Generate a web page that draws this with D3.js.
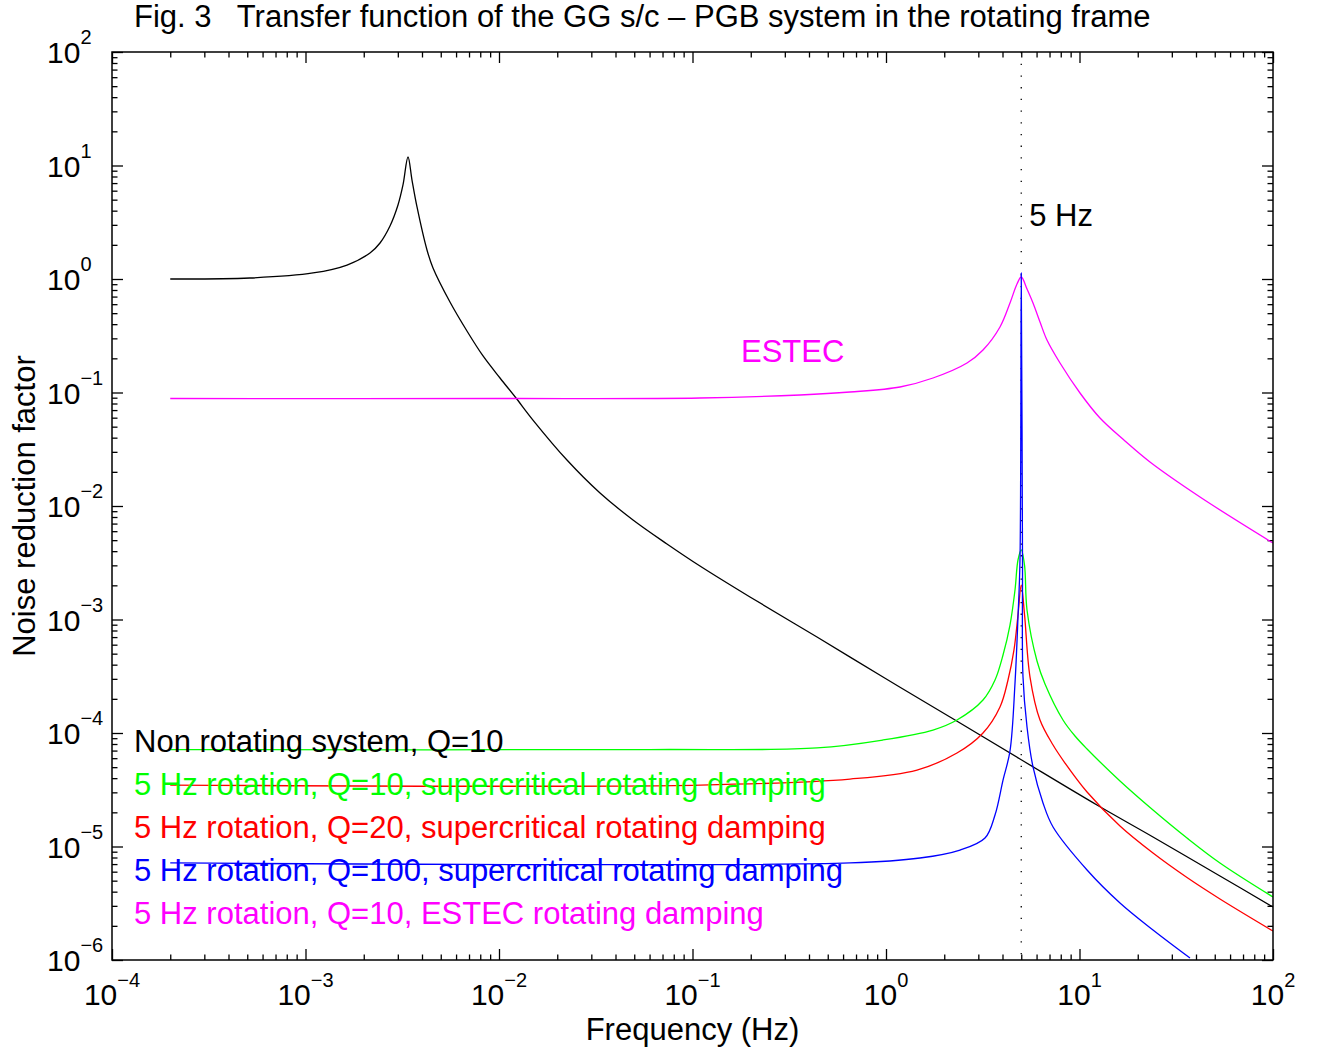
<!DOCTYPE html>
<html>
<head>
<meta charset="utf-8">
<script src="https://cdn.jsdelivr.net/npm/d3@7"></script>
<style>
  body { margin: 0; background: #fff; }
  text { font-family: "Liberation Sans", Arial, Helvetica, sans-serif; }
</style>
</head>
<body>
<svg id="chart" width="1325" height="1052"></svg>
<script>
// values (frequency in Hz, noise reduction factor)
const blackF = [2e-4, 5.16e-4, 1.094e-3, 1.639e-3, 2.154e-3, 2.427e-3, 2.733e-3, 3.006e-3, 3.19e-3, 3.386e-3, 3.551e-3, 3.77e-3, 4.245e-3, 4.56e-3, 5.58e-3, 6.83e-3, 8.27e-3, 1.012e-2, 1.224e-2, 1.498e-2, 2.245e-2, 3.327e-2, 4.927e-2, 7.38e-2, 0.1093, 0.1982, 0.44, 0.965, 2.141, 4.925, 12.31, 23.98, 53.2, 100]
const blackV = [1.0, 1.02, 1.13, 1.328, 1.695, 2.076, 2.931, 4.487, 6.735, 11.88, 7.45, 4.31, 1.801, 1.25, 0.627, 0.3482, 0.2097, 0.1342, 0.0894, 0.0572, 0.02542, 0.01302, 7.53e-3, 4.63e-3, 2.96e-3, 1.579e-3, 7.01e-4, 3.113e-4, 1.384e-4, 5.9e-5, 2.32e-5, 1.213e-5, 5.5e-6, 2.93e-6]

const magentaF = [2e-4, 1.012e-2, 0.1093, 0.3594, 0.6516, 1.181, 1.749, 2.622, 3.172, 3.882, 4.373, 4.753, 5.0, 5.355, 5.751, 6.25, 6.79, 7.93, 10.06, 12.76, 17.18, 23.13, 41.95, 100]
const magentaV = [0.0885, 0.0885, 0.0894, 0.0951, 0.101, 0.1118, 0.1342, 0.1819, 0.2367, 0.3777, 0.6144, 0.9035, 1.041, 0.816, 0.6144, 0.418, 0.29, 0.1819, 0.099, 0.0596, 0.0374, 0.0244, 0.012, 4.72e-3]

const greenF = [2e-4, 0.0603, 0.44, 0.965, 1.749, 2.327, 3.172, 3.659, 4.025, 4.373, 4.642, 4.81, 5.0, 5.2, 5.355, 6.03, 6.633, 8.216, 9.478, 10.94, 16.19, 23.98, 35.94, 53.2, 100]
const greenV = [7.15e-5, 7.15e-5, 7.38e-5, 8.68e-5, 1.062e-4, 1.302e-4, 1.953e-4, 2.93e-4, 4.87e-4, 8.94e-4, 1.819e-3, 3.344e-3, 4.1e-3, 3.0e-3, 1.213e-3, 4.31e-4, 2.702e-4, 1.302e-4, 9.41e-5, 7.23e-5, 3.78e-5, 2.097e-5, 1.188e-5, 7.16e-6, 3.59e-6]

const redF = [2e-4, 0.11, 0.6516, 1.446, 2.327, 3.172, 3.882, 4.271, 4.586, 4.81, 5.0, 5.2, 5.549, 6.25, 7.3, 8.415, 10.94, 16.19, 23.98, 35.94, 53.2, 100]
const redV = [3.48e-5, 3.48e-5, 3.93e-5, 4.72e-5, 6.66e-5, 1.0e-4, 1.695e-4, 2.93e-4, 5.39e-4, 1.096e-3, 2.01e-3, 1.1e-3, 3.113e-4, 1.302e-4, 7.84e-5, 5.44e-5, 3.02e-5, 1.516e-5, 8.76e-6, 5.33e-6, 3.45e-6, 1.8e-6]

const blueF = [2e-4, 0.6516, 1.498, 2.412, 3.248, 3.659, 4.025, 4.373, 4.642, 4.81, 4.925, 5.0, 5.075, 5.105, 5.355, 5.751, 6.477, 7.3, 10.94, 16.19, 23.98, 37.24]
const blueV = [7.16e-6, 7.16e-6, 7.92e-6, 9.31e-6, 1.188e-5, 1.895e-5, 3.85e-5, 6.94e-5, 2.757e-4, 1.052e-3, 3.3e-3, 1.13, 3.3e-3, 3.113e-4, 1.129e-4, 5.02e-5, 2.42e-5, 1.485e-5, 6.21e-6, 3.18e-6, 1.838e-6, 1.041e-6]

const xExponents = [-4, -3, -2, -1, 0, 1, 2]
const yExponents = [-6, -5, -4, -3, -2, -1, 0, 1, 2]

const legendItems = [
  { text: 'Non rotating system, Q=10', color: '#000000' },
  { text: '5 Hz rotation, Q=10, supercritical rotating damping', color: '#00ff00' },
  { text: '5 Hz rotation, Q=20, supercritical rotating damping', color: '#ff0000' },
  { text: '5 Hz rotation, Q=100, supercritical rotating damping', color: '#0000ff' },
  { text: '5 Hz rotation, Q=10, ESTEC rotating damping', color: '#ff00ff' },
]

const resonance = 5

const margin = { top: 52, right: 52, bottom: 92, left: 112 }
const width = 1325
const height = 1052
const chartWidth = width - margin.left - margin.right
const chartHeight = height - margin.top - margin.bottom
const fontSize = 31
const tickFont = 30
const expFont = 20

const svg = d3.select('#chart')

const x = d3.scaleLog().domain([1e-4, 100]).range([0, chartWidth])
const y = d3.scaleLog().domain([1e-6, 100]).range([chartHeight, 0])

const zip = (fs, vs) => fs.map((f, i) => ({ f, v: vs[i] }))

// drawing order: blue ends up on top of the magenta peak
const series = [
  { data: zip(blackF, blackV), color: '#000000' },
  { data: zip(magentaF, magentaV), color: '#ff00ff' },
  { data: zip(greenF, greenV), color: '#00ff00' },
  { data: zip(redF, redV), color: '#ff0000' },
  { data: zip(blueF, blueV), color: '#0000ff' },
]

// minor ticks 2..9 of every decade
const minorTicks = (lo, hi) => {
  const out = []
  for (let e = lo; e < hi; e++) {
    for (let m = 2; m <= 9; m++) out.push(m * Math.pow(10, e))
  }
  return out
}
const xMajor = xExponents.map((e) => Math.pow(10, e))
const yMajor = yExponents.map((e) => Math.pow(10, e))
const xMinor = minorTicks(-4, 2)
const yMinor = minorTicks(-6, 2)

const g = svg
  .append('g')
  .attr('transform', 'translate(' + margin.left + ',' + margin.top + ')')

svg
  .append('defs')
  .append('clipPath')
  .attr('id', 'plotClip')
  .append('rect')
  .attr('x', 0)
  .attr('y', 0)
  .attr('width', chartWidth)
  .attr('height', chartHeight)

// ticks on all four sides, pointing inward
const majorLen = 11
const minorLen = 5.5
const axisSpecs = [
  { axis: d3.axisBottom, scale: x, pos: [0, chartHeight], major: xMajor, minor: xMinor },
  { axis: d3.axisTop, scale: x, pos: [0, 0], major: xMajor, minor: xMinor },
  { axis: d3.axisLeft, scale: y, pos: [0, 0], major: yMajor, minor: yMinor },
  { axis: d3.axisRight, scale: y, pos: [chartWidth, 0], major: yMajor, minor: yMinor },
]
axisSpecs.forEach((s) => {
  ;[
    [s.major, majorLen],
    [s.minor, minorLen],
  ].forEach(([vals, len]) => {
    const a = g
      .append('g')
      .attr('transform', 'translate(' + s.pos[0] + ',' + s.pos[1] + ')')
      .call(s.axis(s.scale).tickValues(vals).tickSize(-len).tickSizeOuter(0).tickFormat(''))
    a.select('.domain').remove()
    a.selectAll('line').attr('stroke', '#000').attr('stroke-width', 1.3)
  })
})

// 5 Hz dotted marker
g.append('line')
  .attr('x1', x(resonance))
  .attr('x2', x(resonance))
  .attr('y1', 0)
  .attr('y2', chartHeight)
  .attr('stroke', '#000')
  .attr('stroke-width', 1.3)
  .attr('stroke-dasharray', '1.3 10.4')

const line = d3
  .line()
  .x((d) => x(d.f))
  .y((d) => y(d.v))
  .curve(d3.curveCatmullRom.alpha(0.5))

g.append('g')
  .attr('clip-path', 'url(#plotClip)')
  .selectAll('path')
  .data(series)
  .join('path')
  .attr('d', (d) => line(d.data))
  .attr('fill', 'none')
  .attr('stroke', (d) => d.color)
  .attr('stroke-width', 1.3)
  .attr('stroke-linejoin', 'round')

// box
g.append('rect')
  .attr('width', chartWidth)
  .attr('height', chartHeight)
  .attr('fill', 'none')
  .attr('stroke', '#000')
  .attr('stroke-width', 1.5)

const fmtExp = (e) => (e < 0 ? '\u2212' + Math.abs(e) : String(e))

// x tick labels
const xl = g
  .append('g')
  .selectAll('text')
  .data(xExponents)
  .join('text')
  .attr('x', (d) => x(Math.pow(10, d)))
  .attr('y', chartHeight + 45)
  .attr('text-anchor', 'middle')
  .attr('font-size', tickFont)
xl.append('tspan').text('10')
xl.append('tspan')
  .attr('dy', -18)
  .attr('font-size', expFont)
  .text((d) => fmtExp(d))

// y tick labels
const yl = svg
  .append('g')
  .selectAll('text')
  .data(yExponents)
  .join('text')
  .attr('x', 47)
  .attr('y', (d) => margin.top + y(Math.pow(10, d)) + 11)
  .attr('text-anchor', 'start')
  .attr('font-size', tickFont)
yl.append('tspan').text('10')
yl.append('tspan')
  .attr('dy', -19)
  .attr('font-size', expFont)
  .text((d) => fmtExp(d))

// titles
svg
  .append('text')
  .attr('x', 134)
  .attr('y', 27)
  .attr('font-size', fontSize)
  .style('white-space', 'pre')
  .text('Fig. 3   Transfer function of the GG s/c \u2013 PGB system in the rotating frame')

svg
  .append('text')
  .attr('x', margin.left + chartWidth / 2)
  .attr('y', 1040)
  .attr('text-anchor', 'middle')
  .attr('font-size', fontSize)
  .text('Frequency (Hz)')

svg
  .append('text')
  .attr('transform', 'translate(35,' + (margin.top + chartHeight / 2) + ') rotate(-90)')
  .attr('text-anchor', 'middle')
  .attr('font-size', fontSize)
  .text('Noise reduction factor')

// annotations
g.append('text')
  .attr('x', x(resonance) + 8)
  .attr('y', y(Math.pow(10, 0.467)))
  .attr('font-size', fontSize)
  .text('5 Hz')

g.append('text')
  .attr('x', x(0.178))
  .attr('y', y(0.186))
  .attr('font-size', fontSize)
  .attr('fill', '#ff00ff')
  .text('ESTEC')

// legend text
svg
  .append('g')
  .selectAll('text')
  .data(legendItems)
  .join('text')
  .attr('x', 134)
  .attr('y', (d, i) => 752 + i * 43)
  .attr('font-size', fontSize)
  .attr('fill', (d) => d.color)
  .text((d) => d.text)
</script>
</body>
</html>
